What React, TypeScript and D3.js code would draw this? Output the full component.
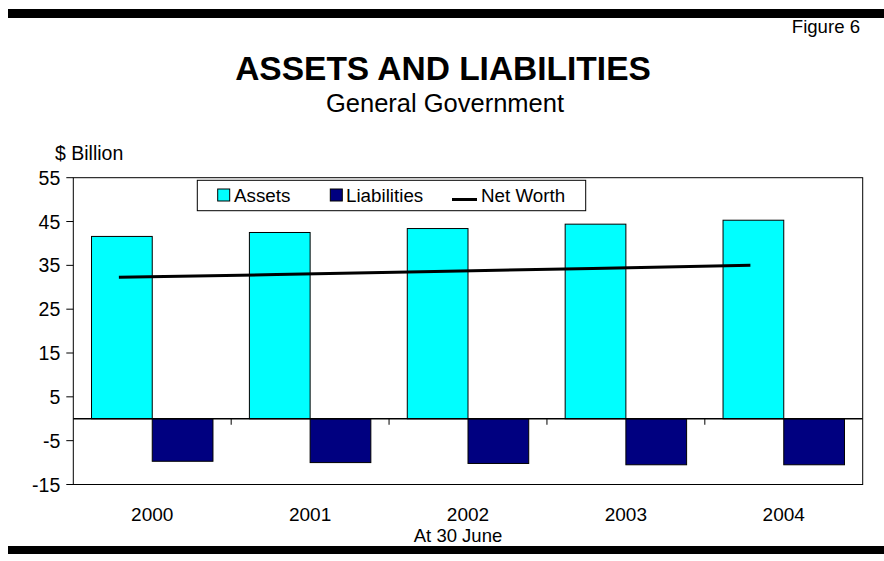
import React from "react";
import * as d3 from "d3";

const years = ["2000", "2001", "2002", "2003", "2004"];
const assets = [41.6, 42.5, 43.4, 44.4, 45.3];
const liabilities = [-9.7, -10.0, -10.2, -10.5, -10.5];
const netWorth = [32.3, 32.9, 33.6, 34.3, 35.0];
const yTicks = [-15, -5, 5, 15, 25, 35, 45, 55];

const W = 884;
const H = 561;
const FONT = "'Liberation Sans', Arial, Helvetica, sans-serif";

export default function App() {
  const left = 73.3, right = 862.7, top = 177.7, bottom = 484.5;
  const x = d3.scaleBand<string>().domain(years).range([left, right]).padding(0);
  const y = d3.scaleLinear().domain([-15, 55]).range([bottom, top]);
  const bw = x.bandwidth();
  const barW = bw / 2.6;
  const pad = 0.3 * barW;
  const lineX = (yr: string) => (x(yr) as number) + pad + barW / 2 - 3;
  const line = d3
    .line<number>()
    .x((_, i) => lineX(years[i]))
    .y((d) => y(d));

  return (
    <svg
      width={W}
      height={H}
      style={{ position: "absolute", left: 0, top: 0, background: "#fff" }}
      fontFamily={FONT}
    >
      <rect x={0} y={0} width={W} height={H} fill="#fff" />
      <rect x={8} y={9} width={W - 8} height={9} fill="#000" />
      <rect x={8} y={546} width={W - 8} height={8} fill="#000" />

      <text x={860} y={33} fontSize={18.6} textAnchor="end">Figure 6</text>
      <text x={443} y={80} fontSize={33.5} fontWeight="bold" textAnchor="middle">
        ASSETS AND LIABILITIES
      </text>
      <text x={445} y={112} fontSize={25.5} textAnchor="middle">General Government</text>
      <text x={55} y={160} fontSize={19.5}>$ Billion</text>

      {/* plot frame */}
      <rect x={left} y={top} width={right - left} height={bottom - top} fill="#fff" stroke="#000" strokeWidth={1} />

      {/* y ticks */}
      {yTicks.map((t) => (
        <g key={t}>
          <line x1={left - 7} x2={left} y1={y(t)} y2={y(t)} stroke="#000" />
          <text x={left - 13} y={y(t) + 7} fontSize={19.5} textAnchor="end">{t}</text>
        </g>
      ))}

      {/* bars */}
      {years.map((yr, i) => (
        <g key={yr}>
          <rect
            x={(x(yr) as number) + pad}
            y={y(assets[i])}
            width={barW}
            height={y(0) - y(assets[i])}
            fill="#00FFFF"
            stroke="#000"
            strokeWidth={1}
          />
          <rect
            x={(x(yr) as number) + pad + barW}
            y={y(0)}
            width={barW}
            height={y(liabilities[i]) - y(0)}
            fill="#000080"
            stroke="#000"
            strokeWidth={1}
          />
        </g>
      ))}

      {/* zero axis and category ticks */}
      <line x1={left} x2={right} y1={y(0)} y2={y(0)} stroke="#000" strokeWidth={1.5} />
      {years.slice(1).map((yr) => (
        <line key={yr} x1={x(yr) as number} x2={x(yr) as number} y1={y(0)} y2={y(0) + 6} stroke="#000" />
      ))}

      {/* net worth line */}
      <path d={line(netWorth) || ""} fill="none" stroke="#000" strokeWidth={3} />

      {/* x labels */}
      {years.map((yr) => (
        <text key={yr} x={(x(yr) as number) + bw / 2} y={521} fontSize={19} textAnchor="middle">{yr}</text>
      ))}
      <text x={458} y={542} fontSize={18.5} textAnchor="middle">At 30 June</text>

      {/* legend */}
      <g>
        <rect x={197.3} y={180.3} width={388.4} height={30.4} fill="#fff" stroke="#000" />
        <rect x={217.7} y={189} width={12} height={12} fill="#00FFFF" stroke="#000" />
        <text x={234} y={202} fontSize={18.8}>Assets</text>
        <rect x={330.3} y={189} width={12} height={12} fill="#000080" stroke="#000" />
        <text x={346} y={202} fontSize={18.8}>Liabilities</text>
        <line x1={452} x2={477} y1={199.5} y2={199.5} stroke="#000" strokeWidth={3} />
        <text x={481} y={202} fontSize={18.8}>Net Worth</text>
      </g>
    </svg>
  );
}
